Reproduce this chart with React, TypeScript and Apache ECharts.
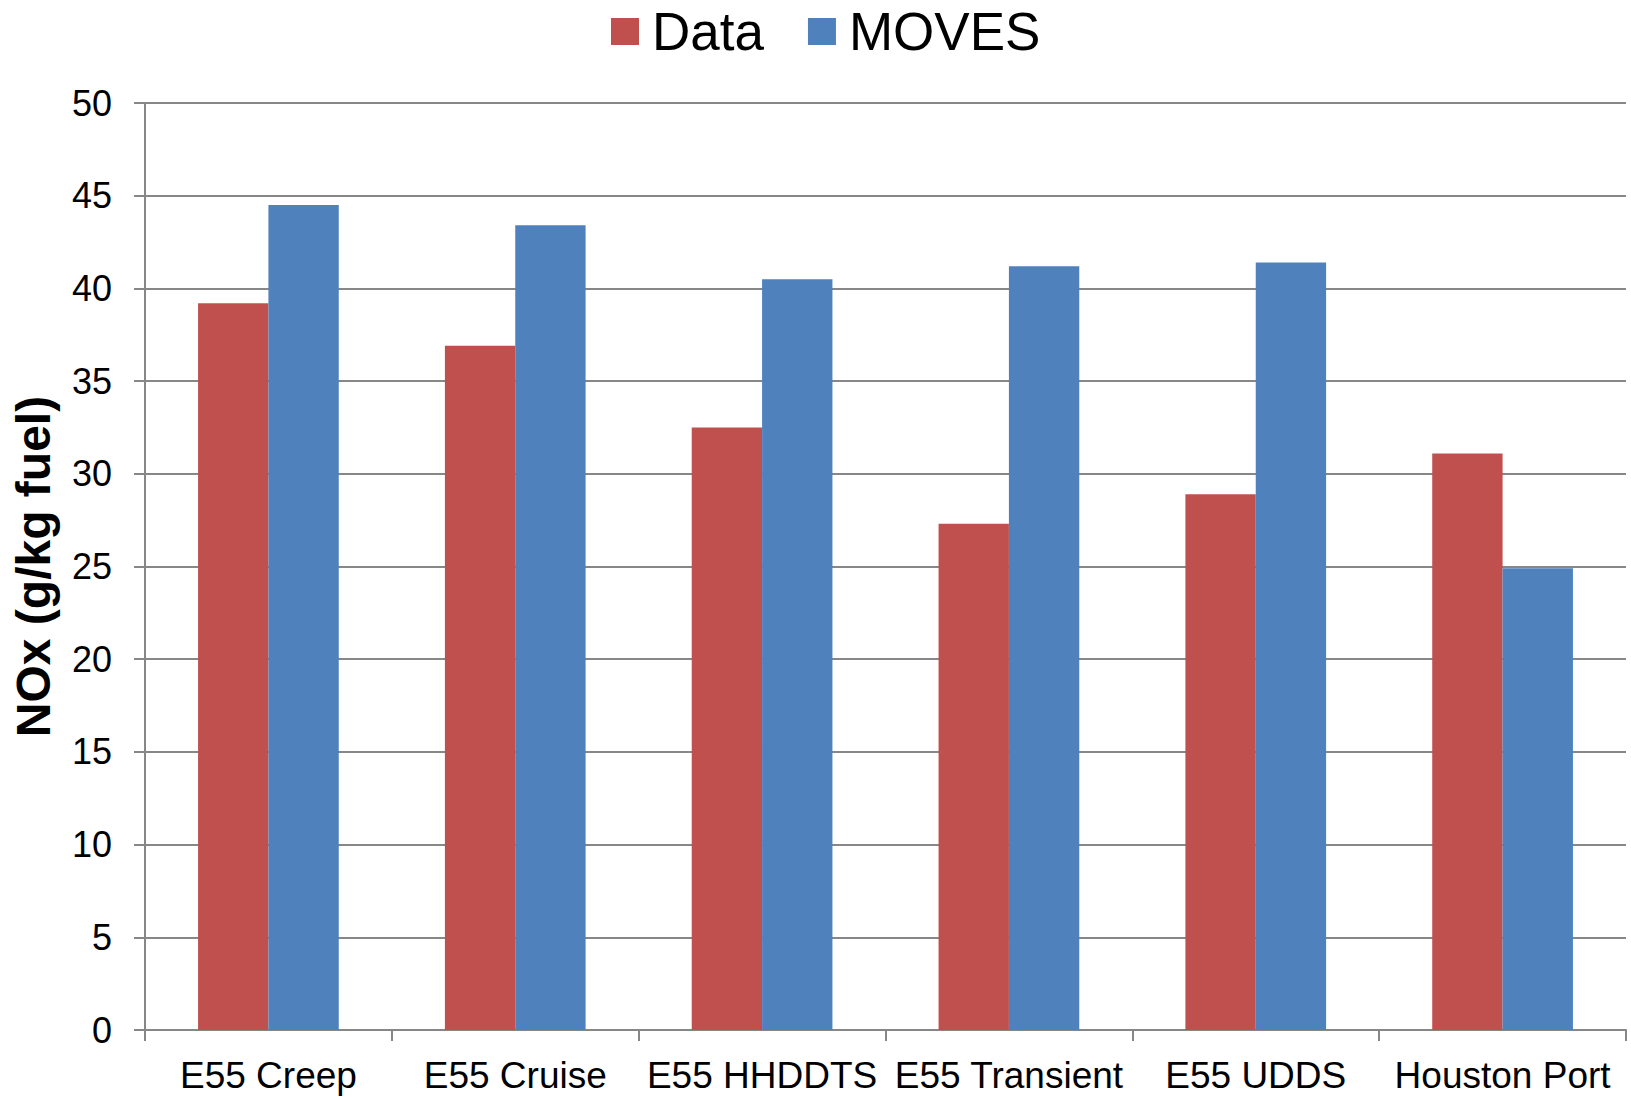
import React, { useEffect, useRef } from "react";
import * as echarts from "echarts";

// Test cycles / locations on the category axis
const categories = [
  "E55 Creep",
  "E55 Cruise",
  "E55 HHDDTS",
  "E55 Transient",
  "E55 UDDS",
  "Houston Port",
];

// NOx emission factors, g/kg fuel
const measuredValues = [39.2, 36.9, 32.5, 27.3, 28.9, 31.1];
const movesValues = [44.5, 43.4, 40.5, 41.2, 41.4, 24.9];

const seriesNames = ["Data", "MOVES"];
const seriesColors = ["#C0504D", "#4F81BD"];

const yAxisTitle = "NOx (g/kg fuel)";

const FONT = "'Liberation Sans', Arial, Helvetica, sans-serif";
const GRAY = "#878787";

export default function App() {
  const ref = useRef<HTMLDivElement>(null);

  useEffect(() => {
    if (!ref.current) return;
    const chart = echarts.init(ref.current, null, { renderer: "svg" });
    chart.setOption({
      animation: false,
      backgroundColor: "#ffffff",
      textStyle: { fontFamily: FONT },
      legend: {
        data: seriesNames,
        left: 606,
        top: 0,
        itemWidth: 28,
        itemHeight: 27,
        itemGap: 44,
        icon: "rect",
        textStyle: {
          fontFamily: FONT,
          fontSize: 53,
          color: "#000000",
          padding: [0, 0, 0, 8],
        },
      },
      grid: {
        left: 145,
        right: 5,
        top: 103,
        bottom: 67,
        containLabel: false,
      },
      xAxis: {
        type: "category",
        data: categories,
        axisLine: { show: true, lineStyle: { color: GRAY, width: 2 } },
        axisTick: {
          show: true,
          length: 11,
          alignWithLabel: false,
          lineStyle: { color: GRAY, width: 2 },
        },
        axisLabel: {
          fontFamily: FONT,
          fontSize: 37,
          color: "#000000",
          margin: 27,
          interval: 0,
        },
        splitLine: { show: false },
      },
      yAxis: {
        type: "value",
        min: 0,
        max: 50,
        interval: 5,
        name: yAxisTitle,
        nameLocation: "middle",
        nameGap: 88,
        nameTextStyle: {
          fontFamily: FONT,
          fontSize: 48,
          fontWeight: "bold",
          color: "#000000",
        },
        axisLine: { show: true, lineStyle: { color: GRAY, width: 2 } },
        axisTick: {
          show: true,
          inside: false,
          length: 11,
          lineStyle: { color: GRAY, width: 2 },
        },
        axisLabel: {
          fontFamily: FONT,
          fontSize: 36,
          color: "#000000",
          margin: 33,
        },
        splitLine: { show: true, lineStyle: { color: GRAY, width: 2 } },
      },
      series: [
        {
          name: seriesNames[0],
          type: "bar",
          data: measuredValues,
          itemStyle: { color: seriesColors[0] },
          barGap: "0%",
          barCategoryGap: "43%",
        },
        {
          name: seriesNames[1],
          type: "bar",
          data: movesValues,
          itemStyle: { color: seriesColors[1] },
          barGap: "0%",
          barCategoryGap: "43%",
        },
      ],
    });
    return () => chart.dispose();
  }, []);

  return (
    <div
      ref={ref}
      style={{ position: "fixed", left: 0, top: 0, width: 1631, height: 1097 }}
    />
  );
}
